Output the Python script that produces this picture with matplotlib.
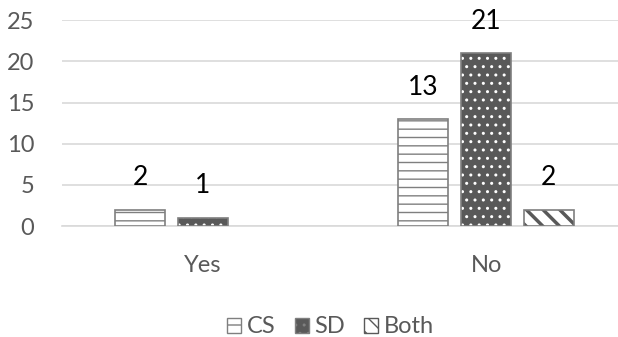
import numpy as np
import matplotlib
matplotlib.use('Agg')
import matplotlib.pyplot as plt
from matplotlib.patches import Patch

plt.rcParams['font.family'] = ['Lato', 'DejaVu Sans']

categories = ['Yes', 'No']
cs_values = [2, 13]
sd_values = [1, 21]
both_values = [np.nan, 2]   # no "Both" bar for Yes

grid_color = '#d9d9d9'
edge_gray = '#7f7f7f'
dark = '#595959'

fig = plt.figure(figsize=(6.18, 3.37), dpi=100)
ax = fig.add_axes([0.1003, 0.329, 0.8997, 0.6113])

x = np.arange(len(categories))
width = 0.176
step = 0.222

# CS: white bars with horizontal lines
with plt.rc_context({'hatch.linewidth': 1.0, 'hatch.color': edge_gray}):
    ax.bar(x - step, cs_values, width, color='white', edgecolor=edge_gray,
           hatch='--', linewidth=1.2, zorder=3)

# SD: dark bars with white dots, outline drawn separately
with plt.rc_context({'hatch.linewidth': 1.0}):
    ax.bar(x, sd_values, width, color=dark, edgecolor='white',
           hatch='..', linewidth=0, zorder=3)
ax.bar(x, sd_values, width, fill=False, edgecolor=edge_gray,
       linewidth=1.2, zorder=4)

# Both: white bars with dark diagonal stripes
with plt.rc_context({'hatch.linewidth': 2.5}):
    ax.bar(x + step, both_values, width, color='white', edgecolor=dark,
           hatch='\\\\', linewidth=0, zorder=3)
ax.bar(x + step, both_values, width, fill=False, edgecolor=edge_gray,
       linewidth=1.2, zorder=4)

# value labels
for offset, vals in [(-step, cs_values), (0, sd_values), (step, both_values)]:
    for xi, v in zip(x, vals):
        if np.isnan(v):
            continue
        ax.annotate(str(v), (xi + offset, v), xytext=(0, 23),
                    textcoords='offset points', ha='center', va='center',
                    fontsize=19, color='black')

ax.set_ylim(0, 25)
ax.set_yticks([0, 5, 10, 15, 20, 25])
ax.set_xlim(-0.498, 1.466)
ax.set_xticks(x)
ax.set_xticklabels(categories)
ax.tick_params(axis='y', length=0, pad=20, labelsize=17, labelcolor=dark)
ax.tick_params(axis='x', length=0, pad=21, labelsize=17, labelcolor=dark)

ax.yaxis.grid(True, color=grid_color, linewidth=1.2, zorder=0)
ax.set_axisbelow(True)
for s in ['top', 'right', 'left']:
    ax.spines[s].set_visible(False)
ax.spines['bottom'].set_color(grid_color)
ax.spines['bottom'].set_linewidth(1.2)

handles = [
    Patch(facecolor='white', edgecolor=edge_gray, hatch='-', label='CS'),
    Patch(facecolor=dark, edgecolor=edge_gray, hatch='..', label='SD'),
    Patch(facecolor='white', edgecolor=dark, hatch='\\\\', label='Both'),
]
fig.legend(handles=handles, loc='center', bbox_to_anchor=(0.535, 0.03),
           ncol=3, frameon=False, fontsize=17, handlelength=0.6,
           handleheight=0.6, handletextpad=0.25, columnspacing=0.8,
           labelcolor=dark)

fig.savefig('out.png', dpi=100)
